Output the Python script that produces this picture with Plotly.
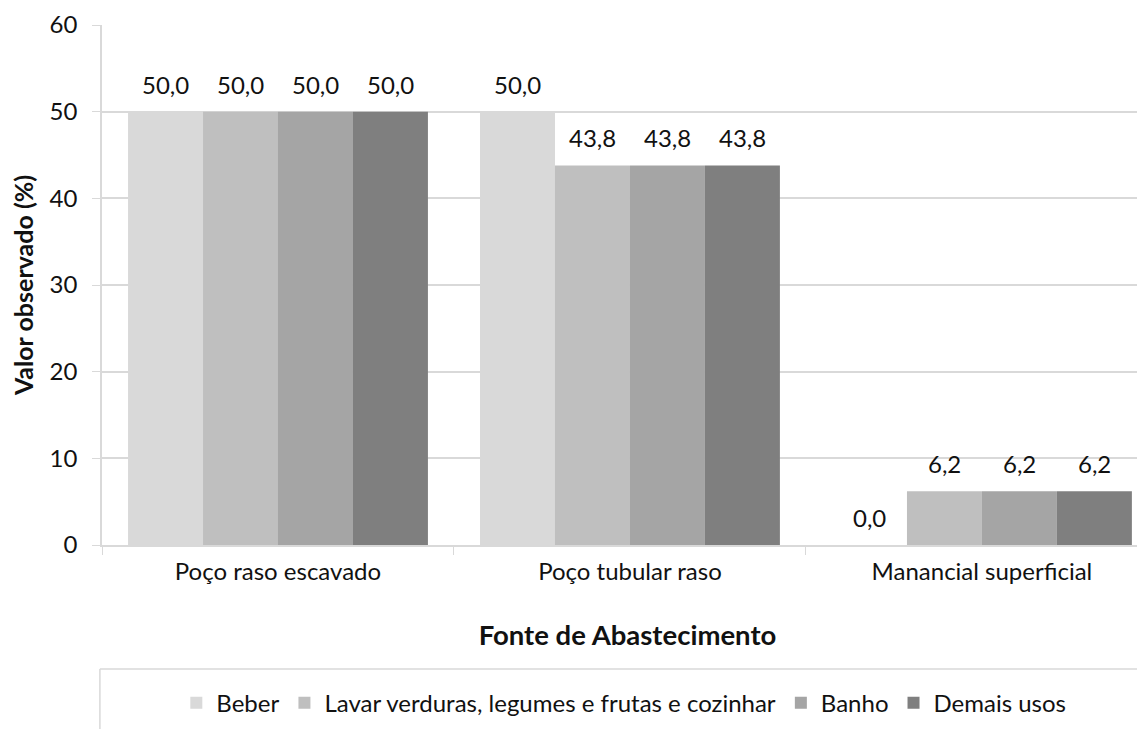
import plotly.graph_objects as go

categories = ["Poço raso escavado", "Poço tubular raso", "Manancial superficial"]
series_names = ["Beber", "Lavar verduras, legumes e frutas e cozinhar", "Banho", "Demais usos"]
beber = [50.0, 50.0, 0.0]
lavar = [50.0, 43.8, 6.2]
banho = [50.0, 43.8, 6.2]
demais = [50.0, 43.8, 6.2]
series_values = [beber, lavar, banho, demais]
colors = ["#d9d9d9", "#bfbfbf", "#a5a5a5", "#7f7f7f"]
y_ticks = [0, 10, 20, 30, 40, 50, 60]

FONT = "Lato"
TXT = "#111111"
BARGAP = 0.148
CAT_PX = 352  # pixel width of one category slot
bar_px = CAT_PX * (1 - BARGAP) / len(series_names)

fig = go.Figure()
annotations = []
for i, (name, vals, col) in enumerate(zip(series_names, series_values, colors)):
    fig.add_trace(go.Bar(
        x=categories, y=vals, name=name,
        marker=dict(color=col, line=dict(width=0)),
        hoverinfo="x+y+name",
    ))
    for cat, v in zip(categories, vals):
        annotations.append(dict(
            x=cat, y=v, xref="x", yref="y",
            text=f"{v:.1f}".replace(".", ","),
            showarrow=False, yanchor="bottom",
            xshift=(i - (len(series_names) - 1) / 2) * bar_px,
            yshift=11,
            font=dict(family=FONT, size=24, color=TXT),
        ))

fig.update_layout(
    width=1145, height=729,
    margin=dict(l=94, r=0, t=17, b=192, autoexpand=False),
    paper_bgcolor="white", plot_bgcolor="white",
    barmode="group", bargap=BARGAP, bargroupgap=0,
    separators=",.",
    font=dict(family=FONT, size=24, color=TXT),
    showlegend=True,
    legend=dict(orientation="h", x=0.4965, xanchor="center", y=-0.304, yanchor="middle",
                font=dict(family=FONT, size=24, color=TXT),
                traceorder="normal", itemwidth=30, bgcolor="rgba(0,0,0,0)"),
    xaxis=dict(
        range=[-0.5, 2.486], showgrid=False, automargin=False,
        showline=True, linecolor="#d9d9d9", linewidth=1.5,
        ticks="outside", tickson="boundaries", ticklen=8, tickcolor="#d9d9d9",
        tickfont=dict(family=FONT, size=24, color=TXT),
        ticklabelstandoff=4,
        title=dict(text="<b>Fonte de Abastecimento</b>", font=dict(family=FONT, size=27.5, color=TXT), standoff=42),
    ),
    yaxis=dict(
        range=[0, 60], tickvals=y_ticks, automargin=False,
        showgrid=True, gridcolor="#d9d9d9", gridwidth=1.5,
        showline=True, linecolor="#d9d9d9", linewidth=1.5,
        ticks="outside", ticklen=8, tickcolor="#d9d9d9",
        tickfont=dict(family=FONT, size=24, color=TXT),
        ticklabelstandoff=10,
        zeroline=False,
        title=dict(text="<b>Valor observado (%)</b>", font=dict(family=FONT, size=25, color=TXT), standoff=21),
    ),
    annotations=annotations,
    shapes=[
        dict(type="line", xref="paper", yref="paper", x0=-0.002, x1=1.0, y0=-0.2385, y1=-0.2385,
             line=dict(color="#d9d9d9", width=1.5)),
        dict(type="line", xref="paper", yref="paper", x0=-0.002, x1=-0.002, y0=-0.2385, y1=-0.36,
             line=dict(color="#d9d9d9", width=1.5)),
    ],
)

fig.write_html("out.html")
